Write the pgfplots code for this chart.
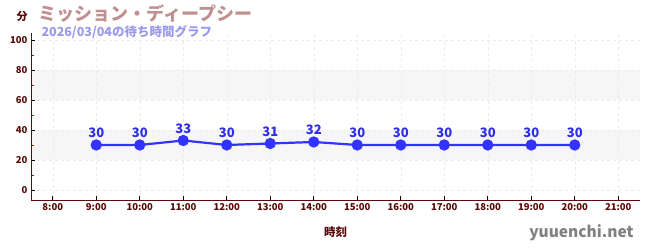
\documentclass[border=0pt]{standalone}
\usepackage{pgfplots}
\pgfplotsset{compat=1.18}
\usepackage{fontspec}
\setmainfont{Noto Sans CJK JP}
\definecolor{axred}{HTML}{5A0A0A}
\definecolor{lineblue}{HTML}{3333FF}
\definecolor{titlerose}{HTML}{C09090}
\definecolor{subblue}{HTML}{9999EE}
\definecolor{band}{HTML}{F6F6F6}
\definecolor{gridc}{HTML}{EBEBEB}
\begin{document}
\begin{tikzpicture}[x=1pt,y=1pt]
\begin{axis}[
  set layers,
  at={(0,0)}, anchor=south west,
  scale only axis, width=609pt, height=167pt,
  xmin=7.5, xmax=21.5, ymin=-6.7, ymax=104.7,
  axis x line*=bottom, axis y line*=left,
  axis line style={axred, line width=0.8pt, -},
  xtick={8,...,21},
  xticklabels={8:00,9:00,10:00,11:00,12:00,13:00,14:00,15:00,16:00,17:00,18:00,19:00,20:00,21:00},
  ytick={0,20,40,60,80,100},
  minor ytick={10,30,50,70,90},
  tick style={black, line width=0.6pt},
  major tick length=4pt,
  minor tick length=3pt,
  minor tick style={red!80!black},
  x tick label style={font=\bfseries\fontsize{9.5}{10}\selectfont, text=axred},
  y tick label style={font=\bfseries\fontsize{9.5}{10}\selectfont, text=axred},
  /pgf/number format/assume math mode=true,
  grid=major,
  major grid style={gridc, dash pattern=on 3pt off 3pt, line width=0.5pt},
  xlabel={\bfseries 時刻},
  xlabel style={font=\fontsize{11.5}{12}\selectfont, text=axred, yshift=-9pt},
  clip=false,
]
\addplot[fill=band, draw=none, on layer=axis background] coordinates {(7.5,20) (21.5,20) (21.5,40) (7.5,40)} -- cycle;
\addplot[fill=band, draw=none, on layer=axis background] coordinates {(7.5,60) (21.5,60) (21.5,80) (7.5,80)} -- cycle;
\addplot[lineblue, line width=2.2pt, mark=*, mark size=4.5pt,
  mark options={fill=lineblue, draw=lineblue},
  nodes near coords,
  every node near coord/.append style={font=\bfseries\fontsize{13}{13}\selectfont, text=lineblue!90!black, yshift=2.5pt},
  point meta=explicit symbolic]
  coordinates {
  (9,30) [30] (10,30) [30] (11,33) [33] (12,30) [30] (13,31) [31] (14,32) [32]
  (15,30) [30] (16,30) [30] (17,30) [30] (18,30) [30] (19,30) [30] (20,30) [30]
  };
\end{axis}
\node[anchor=west, text=axred, font=\bfseries\fontsize{11}{12}\selectfont] at (-18,184) {分};
\node[anchor=west, text=titlerose, font=\bfseries\fontsize{18}{18}\selectfont] at (4,186) {ミッション・ディープシー};
\node[anchor=west, text=subblue, font=\bfseries\fontsize{12.5}{13}\selectfont] at (7,168) {2026/03/04の待ち時間グラフ};
\node[anchor=east, text=gray, font=\bfseries\fontsize{15.5}{16}\selectfont] at (606,-33) {yuuenchi.net};
\pgfresetboundingbox
\path (-31,-50) rectangle (619,200);
\end{tikzpicture}
\end{document}
